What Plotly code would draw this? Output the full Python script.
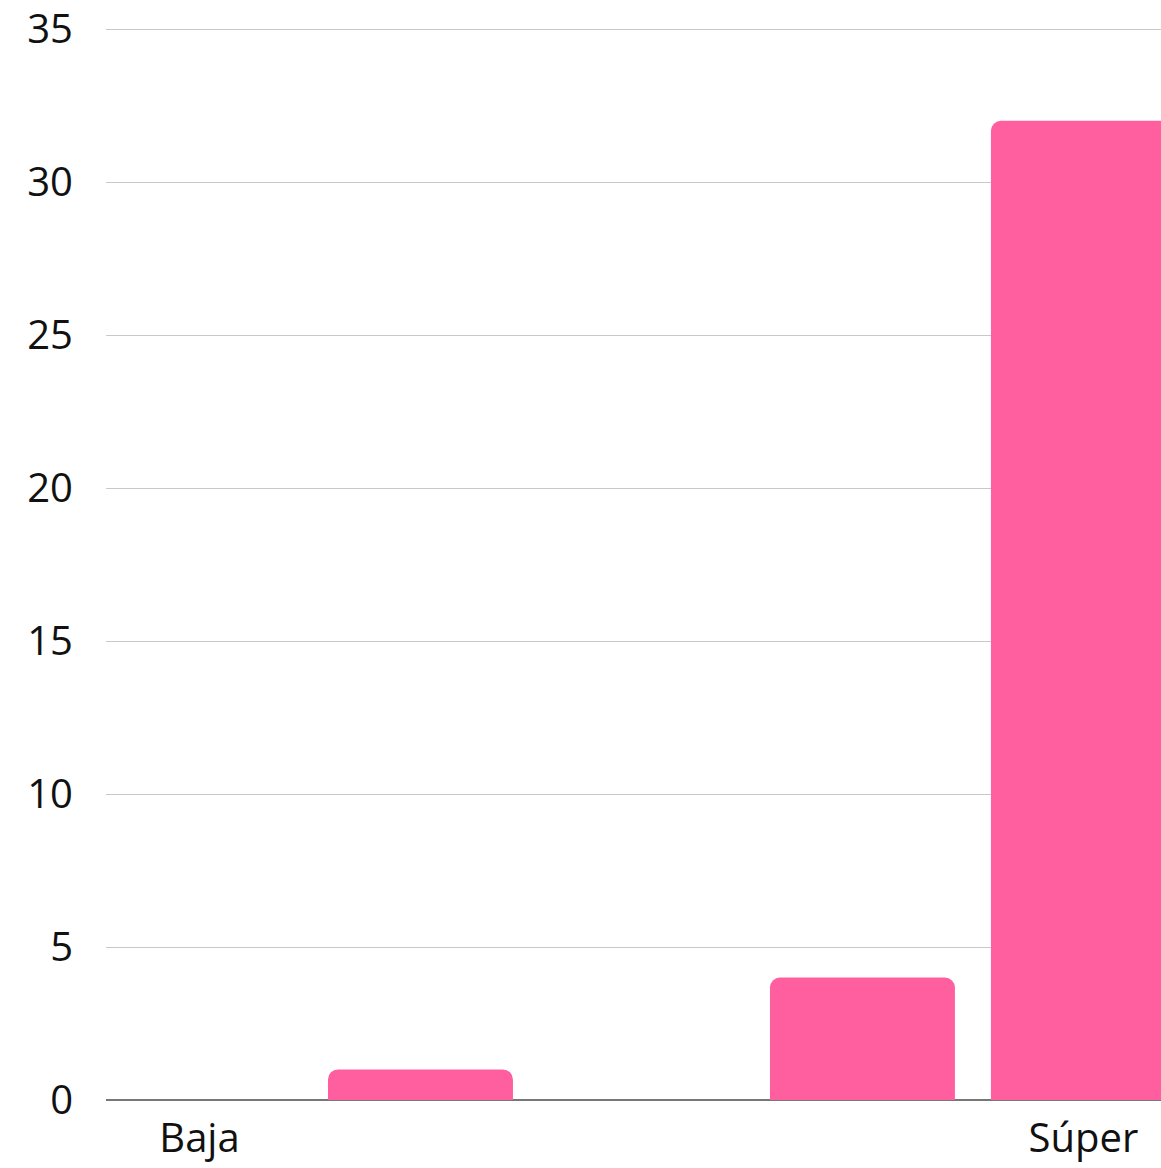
import plotly.graph_objects as go

categories = ["Baja", "Media-baja", "Media", "Media-alta", "Súper"]
tick_labels = ["Baja", "", "", "", "Súper"]
values = [0, 1, 0, 4, 32]
y_ticks = [0, 5, 10, 15, 20, 25, 30, 35]

fig = go.Figure(
    go.Bar(
        x=categories,
        y=values,
        marker=dict(color="#FF5F9E", cornerradius=10, line=dict(width=0)),
        width=0.837,
    )
)

fig.update_layout(
    width=1161,
    height=1168,
    margin=dict(l=106, r=0, t=26, b=68),
    paper_bgcolor="white",
    plot_bgcolor="white",
    showlegend=False,
    font=dict(family="Open Sans", size=40, color="#111111"),
)

fig.update_xaxes(
    type="category",
    range=[-0.423, 4.351],
    tickvals=categories,
    ticktext=tick_labels,
    showgrid=False,
    showline=False,
    zeroline=False,
    ticks="",
    ticklabelstandoff=11,
    ticklabeloverflow="allow",
    automargin=False,
)

fig.update_yaxes(
    range=[0, 35.1],
    tickvals=y_ticks,
    showgrid=True,
    gridcolor="#c8c8c8",
    gridwidth=1,
    zeroline=True,
    zerolinecolor="#777777",
    zerolinewidth=1.5,
    showline=False,
    ticks="",
    ticklabelstandoff=32,
    ticklabeloverflow="allow",
    automargin=False,
)

fig.write_html(
    "out.html",
    config={"displayModeBar": False},
    post_script="document.body.style.margin='0';document.body.style.overflow='hidden';",
)
